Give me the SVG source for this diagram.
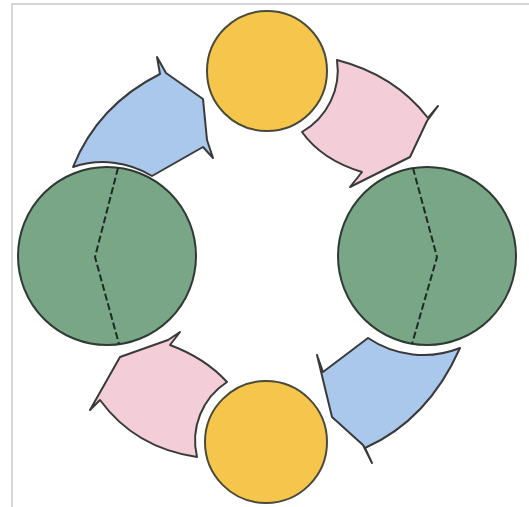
<svg xmlns="http://www.w3.org/2000/svg" width="529" height="507" viewBox="0 0 529 507">
<style>
.frame{fill:none;stroke:#d6d6d6;stroke-width:2}
.arr{stroke:#3a3a3a;stroke-width:2;stroke-linejoin:round}
.blue{fill:#a9c8ec}
.pink{fill:#f3cdd7}
.yellow{fill:#f6c64c;stroke:#4a4a3a;stroke-width:2}
.green{fill:#78a686;stroke:#2e3a32;stroke-width:2}
.div{fill:none;stroke:#1e2a22;stroke-width:2;stroke-dasharray:7 3}
</style>
<rect width="529" height="507" fill="#ffffff"/>
<path class="frame" d="M12,507 L12,4 L529,4"/>
<g id="connectors">
<path id="arrow-left-top" class="arr blue" d="M73,167 Q98,105 160,74 L157,57 L166,73 L203,99 L207,140 L213,158 L203,147 L152,176 A93,93 0 0 0 73,167 Z"/>
<path id="arrow-top-right" class="arr pink" d="M337,60 Q395,75 428,118 L438,106 L427,121 L410,157 L368,178 L350,187 L362,172 Q322,160 302,132 A71,71 0 0 0 337,60 Z"/>
<path id="arrow-right-bottom" class="arr blue" d="M368,338 L323,372 L317,355 L332,417 L363,445 L372,463 L365,448 Q428,420 460,348 A99,99 0 0 1 368,338 Z"/>
<path id="arrow-bottom-left" class="arr pink" d="M180,332 L170,345 Q205,358 227,382 A70,70 0 0 0 197,457 Q135,448 100,400 L90,410 L120,357 L168,340 Z"/>
</g>
<g id="node-top"><circle class="yellow" cx="267" cy="71" r="60"/></g>
<g id="node-bottom"><circle class="yellow" cx="266" cy="442" r="61"/></g>
<g id="node-left">
<circle class="green" cx="107" cy="256" r="89"/>
<path class="div" d="M118,168 L95,257 L119,344"/>
</g>
<g id="node-right">
<circle class="green" cx="427" cy="256" r="89"/>
<path class="div" d="M413,168 L437,257 L412,344"/>
</g>
</svg>
